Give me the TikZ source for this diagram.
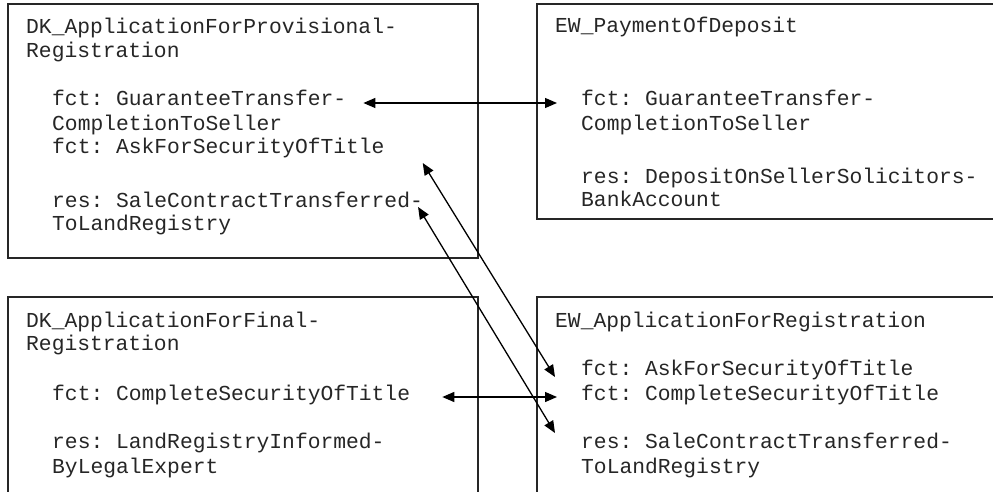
\documentclass[tikz,border=0pt]{standalone}
\usepackage{fontspec}
\setmonofont{Liberation Mono}
\usetikzlibrary{arrows.meta}

\tikzset{
  box/.style={draw=black!85, line width=1.6pt},
  txt/.style={anchor=west, inner sep=0pt, text height=15pt, text depth=4pt,
              font=\ttfamily\fontsize{21.3}{24.5}\selectfont, text=black!85},
  link/.style={line width=1.3pt, {Triangle[length=12pt,width=10pt]}-{Triangle[length=12pt,width=10pt]}}
}

\begin{document}
\begin{tikzpicture}[x=1pt,y=-1pt]

 \clip (0,0) rectangle (993,492);
 \fill[white] (0,0) rectangle (993,492);

 % Boxes
 \draw[box] (8,4) rectangle (478,258);    % Provisional registration
 \draw[box] (537,4) rectangle (1010,219); % Payment of deposit
 \draw[box] (8,297) rectangle (478,520);  % Final registration
 \draw[box] (537,297) rectangle (1010,520); % Application for registration

 % DK_ApplicationForProvisional-Registration
 \node[txt] (pTitleA) at (26,28) {DK\_ApplicationForProvisional-};
 \node[txt] (pTitleB) at (26,52) {Registration};
 \node[txt] (pGuarA) at (52,100) {fct: GuaranteeTransfer-};
 \node[txt] (pGuarB) at (52,125) {CompletionToSeller};
 \node[txt] (pAsk) at (52,148) {fct: AskForSecurityOfTitle};
 \node[txt] (pResA) at (52,202) {res: SaleContractTransferred-};
 \node[txt] (pResB) at (52,225) {ToLandRegistry};

 % EW_PaymentOfDeposit
 \node[txt] (dTitle) at (555,27) {EW\_PaymentOfDeposit};
 \node[txt] (dGuarA) at (581,100) {fct: GuaranteeTransfer-};
 \node[txt] (dGuarB) at (581,125) {CompletionToSeller};
 \node[txt] (dResA) at (581,178) {res: DepositOnSellerSolicitors-};
 \node[txt] (dResB) at (581,201) {BankAccount};

 % DK_ApplicationForFinal-Registration
 \node[txt] (fTitleA) at (26,322) {DK\_ApplicationForFinal-};
 \node[txt] (fTitleB) at (26,345) {Registration};
 \node[txt] (fComp) at (52,395) {fct: CompleteSecurityOfTitle};
 \node[txt] (fResA) at (52,443) {res: LandRegistryInformed-};
 \node[txt] (fResB) at (52,468) {ByLegalExpert};

 % EW_ApplicationForRegistration
 \node[txt] (rTitle) at (555,322) {EW\_ApplicationForRegistration};
 \node[txt] (rAsk) at (581,370) {fct: AskForSecurityOfTitle};
 \node[txt] (rComp) at (581,395) {fct: CompleteSecurityOfTitle};
 \node[txt] (rResA) at (581,443) {res: SaleContractTransferred-};
 \node[txt] (rResB) at (581,468) {ToLandRegistry};

 % Links
 \draw[link] ([xshift=17pt,yshift=-3pt]pGuarA.east) -- ([xshift=-24pt,yshift=-3pt]dGuarA.west);
 \draw[link] ([xshift=38pt,yshift=-15pt]pAsk.east) -- ([xshift=-26pt,yshift=-7pt]rAsk.west);
 \draw[link] ([xshift=-5pt,yshift=-5pt]pResA.east) -- ([xshift=-26pt,yshift=10pt]rResA.west);
 \draw[link] ([xshift=32pt,yshift=-2pt]fComp.east) -- ([xshift=-24pt,yshift=-2pt]rComp.west);

\end{tikzpicture}
\end{document}
